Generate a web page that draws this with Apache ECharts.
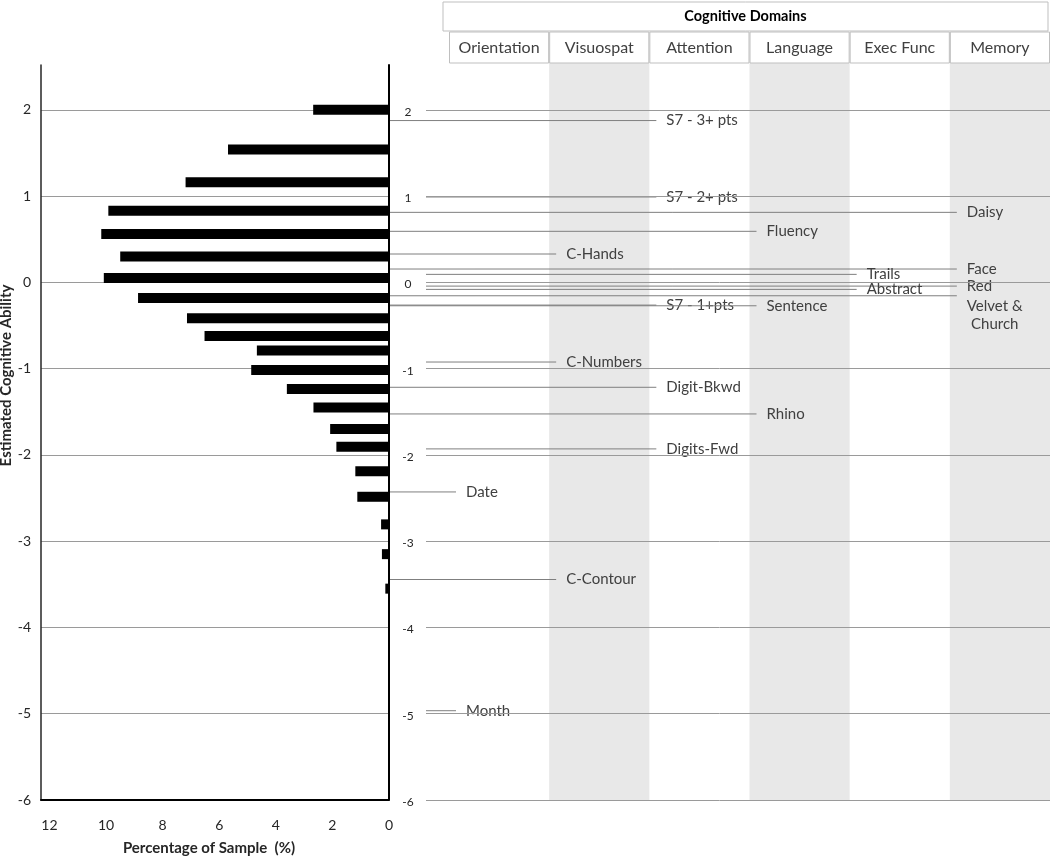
<!DOCTYPE html>
<html>
<head>
<meta charset="utf-8">
<script src="https://cdn.jsdelivr.net/npm/echarts@6/dist/echarts.min.js"></script>
<style>html,body{margin:0;padding:0;background:#fff}#c{width:1050px;height:858px}</style>
</head>
<body>
<div id="c"></div>
<script>
// ---------- data ----------
const abilityTicks = [-6, -5, -4, -3, -2, -1, 0, 1, 2];
const percentTicks = [0, 2, 4, 6, 8, 10, 12];
const domains = ['Orientation', 'Visuospat', 'Attention', 'Language', 'Exec Func', 'Memory'];
const barAbility = [2.0, 1.54, 1.16, 0.83, 0.56, 0.30, 0.05, -0.18, -0.415, -0.62, -0.79, -1.015, -1.235, -1.45, -1.70, -1.905, -2.19, -2.485, -2.805, -3.15, -3.55];
const barPercent = [2.68, 5.69, 7.19, 9.92, 10.17, 9.50, 10.08, 8.87, 7.14, 6.52, 4.67, 4.87, 3.61, 2.67, 2.08, 1.86, 1.19, 1.12, 0.28, 0.25, 0.13];
const itemNames = ['S7 - 3+ pts', 'S7 - 2+ pts', 'Daisy', 'Fluency', 'C-Hands', 'Face', 'Trails', 'Red', 'Abstract', 'Velvet &\nChurch', 'S7 - 1+pts', 'Sentence', 'C-Numbers', 'Digit-Bkwd', 'Rhino', 'Digits-Fwd', 'Date', 'C-Contour', 'Month'];
const itemAbility = [1.876, 0.99, 0.812, 0.592, 0.329, 0.155, 0.093, -0.043, -0.081, -0.155, -0.263, -0.271, -0.923, -1.216, -1.525, -1.93, -2.429, -3.444, -4.965];
const itemDomain = ['Attention', 'Attention', 'Memory', 'Language', 'Visuospat', 'Memory', 'Exec Func', 'Memory', 'Exec Func', 'Memory', 'Attention', 'Language', 'Visuospat', 'Attention', 'Language', 'Attention', 'Orientation', 'Visuospat', 'Orientation'];

// ---------- layout ----------
const FONT = 'Lato, "Open Sans", sans-serif';
const ITEM_FONT = '15px ' + FONT;
const AX = 389, LEFT = 41, RIGHT = 1050, TOP = 65, BOTTOM = 800, COL_LEFT = 449, HEAD_BOTTOM = 63;
const colW = (RIGHT - COL_LEFT) / domains.length;
const itemXMin = -(COL_LEFT - AX) / colW;
const yMin = abilityTicks[0], yMax = 2.52;

const measureCtx = document.createElement('canvas').getContext('2d');
measureCtx.font = ITEM_FONT;
const maxLineWidth = s => Math.max(...s.split('\n').map(t => measureCtx.measureText(t).width));

const barData = barAbility.map((a, i) => [barPercent[i], a]);
const itemData = itemNames.map((n, i) => [domains.indexOf(itemDomain[i]), itemAbility[i]]);

const chart = echarts.init(document.getElementById('c'), null, {renderer: 'canvas'});
const intLabel = v => abilityTicks.includes(v) ? String(v) : '';

chart.setOption({
  animation: false,
  backgroundColor: '#fff',
  grid: [
    {left: LEFT, top: TOP, width: AX - LEFT, height: BOTTOM - TOP, outerBoundsMode: 'none', containLabel: false},
    {left: AX, top: TOP, width: RIGHT - AX, height: BOTTOM - TOP, outerBoundsMode: 'none', containLabel: false},
    {left: COL_LEFT, top: HEAD_BOTTOM, width: RIGHT - COL_LEFT, height: BOTTOM - HEAD_BOTTOM, outerBoundsMode: 'none', containLabel: false}
  ],
  xAxis: [
    {
      gridIndex: 0, type: 'value', inverse: true, min: 0, max: 12.3, interval: 2,
      axisLine: {show: true, onZero: false, lineStyle: {color: '#000', width: 2}},
      axisTick: {show: false}, splitLine: {show: false},
      axisLabel: {margin: 18, fontSize: 14, color: '#262626', fontFamily: FONT,
        formatter: v => percentTicks.includes(v) ? String(v) : ''},
      name: 'Percentage of Sample  (%)', nameLocation: 'middle', nameGap: 41,
      nameTextStyle: {fontSize: 15, fontWeight: 'bold', color: '#262626', fontFamily: FONT, padding: [0, 12, 0, 0]}
    },
    {gridIndex: 1, type: 'value', min: itemXMin, max: domains.length, show: false},
    {
      gridIndex: 2, type: 'category', data: domains, position: 'top', boundaryGap: true, z: 0,
      axisLine: {show: false}, axisTick: {show: false}, splitLine: {show: false},
      splitArea: {show: true, areaStyle: {color: ['rgba(255,255,255,0)', '#e8e8e8']}},
      axisLabel: {interval: 0, margin: 0, color: '#404040', fontSize: 16, fontFamily: FONT,
        width: colW - 1, height: 31, lineHeight: 31, borderColor: '#bfbfbf', borderWidth: 1,
        align: 'center', verticalAlign: 'bottom', overflow: 'none'},
      name: '{h|Cognitive Domains}', nameLocation: 'middle', nameGap: 32, nameMoveOverlap: false,
      nameTextStyle: {padding: [0, 8, 0, 0], verticalAlign: 'bottom',
        rich: {h: {color: '#000', fontWeight: 'bold', fontSize: 14.5, fontFamily: FONT,
        width: 605, height: 29, lineHeight: 29, borderColor: '#bfbfbf', borderWidth: 1, align: 'center'}}}
    }
  ],
  yAxis: [
    {
      gridIndex: 0, type: 'value', min: yMin, max: yMax, interval: 1, position: 'left',
      axisLine: {show: true, onZero: false, lineStyle: {color: '#262626', width: 1.5}},
      axisTick: {show: false},
      axisLabel: {margin: 10, fontSize: 14, color: '#262626', fontFamily: FONT, formatter: intLabel, showMaxLabel: false},
      splitLine: {show: true, showMaxLine: false, lineStyle: {color: '#9a9a9a', width: 1}},
      name: 'Estimated Cognitive Ability', nameLocation: 'middle', nameGap: 26, nameRotate: 90,
      nameTextStyle: {fontSize: 15, fontWeight: 'bold', color: '#262626', fontFamily: FONT, padding: [0, 0, 0, 114]}
    },
    {
      gridIndex: 1, type: 'value', min: yMin, max: yMax, interval: 1, position: 'left', z: 5,
      axisLine: {show: true, onZero: false, lineStyle: {color: '#000', width: 2}},
      axisTick: {show: false},
      axisLabel: {inside: true, margin: 1, showMaxLabel: false,
        formatter: v => abilityTicks.includes(v) ? '{a|' + v + '}' : '',
        rich: {a: {width: 36, height: 16, align: 'center', backgroundColor: '#fff', fontSize: 12,
          color: '#262626', fontFamily: FONT, padding: [4, 0, 0, 0]}}},
      splitLine: {show: true, showMaxLine: false, lineStyle: {color: '#9a9a9a', width: 1}}
    },
    {gridIndex: 2, type: 'value', min: 0, max: 1, show: false}
  ],
  series: [
    {
      type: 'custom', xAxisIndex: 0, yAxisIndex: 0, data: barData, encode: {x: 0, y: 1},
      renderItem(params, api) {
        const y = api.value(1), p = api.value(0);
        const a = api.coord([0, y]), b = api.coord([p, y]);
        return {type: 'rect', shape: {x: b[0], y: a[1] - 5, width: a[0] - b[0], height: 10}, style: {fill: '#000'}};
      }
    },
    {
      type: 'custom', xAxisIndex: 1, yAxisIndex: 1, data: itemData, encode: {x: 0, y: 1}, z: 3,
      renderItem(params, api) {
        const d = api.value(0), y = api.value(1);
        const name = itemNames[params.dataIndex];
        const s = api.coord([itemXMin, y]);
        const e = api.coord([d, y]);
        const lineEnd = e[0] + 7;
        const multi = name.indexOf('\n') >= 0;
        const tx = lineEnd + 10 + (multi ? maxLineWidth(name) / 2 : 0);
        return {type: 'group', children: [
          {type: 'line', shape: {x1: s[0], y1: s[1], x2: lineEnd, y2: s[1]}, style: {stroke: '#7f7f7f', lineWidth: 1}},
          {type: 'text', x: tx, y: e[1] + (multi ? 1 : 0),
           style: {text: name, fill: '#404040', font: ITEM_FONT, verticalAlign: multi ? 'top' : 'middle',
             align: multi ? 'center' : 'left', lineHeight: 18}}
        ]};
      }
    }
  ]
});
</script>
</body>
</html>
